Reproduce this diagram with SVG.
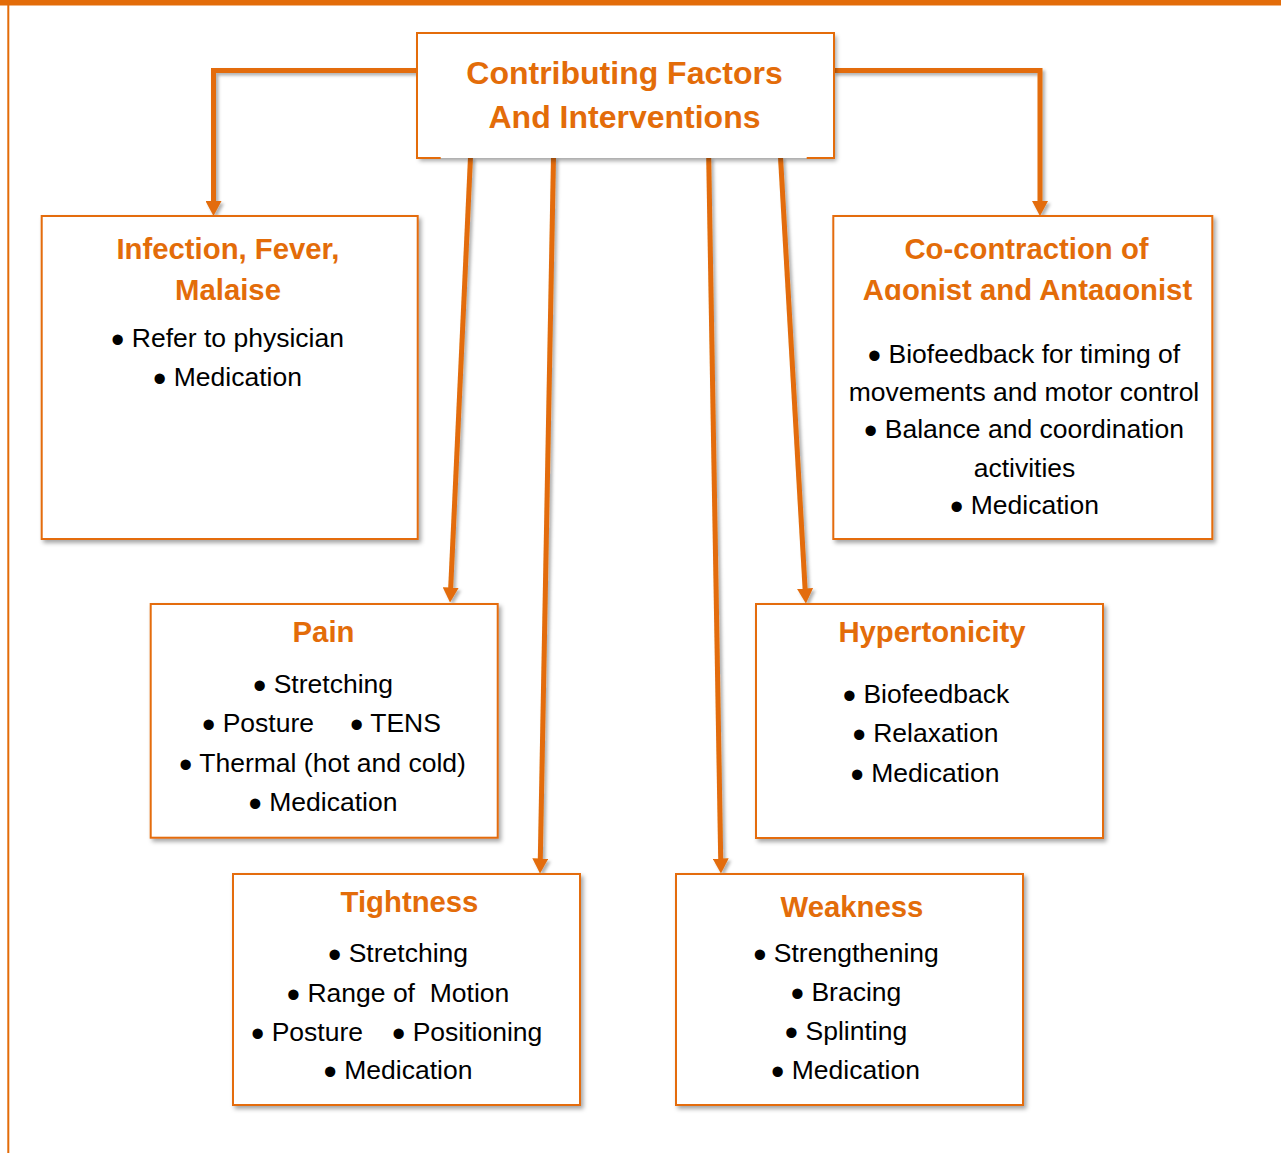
<svg xmlns="http://www.w3.org/2000/svg" width="1281" height="1153" viewBox="0 0 1281 1153">
<defs>
<filter id="sh" x="-10%" y="-10%" width="120%" height="120%">
<feDropShadow dx="2.5" dy="3" stdDeviation="2" flood-color="#000" flood-opacity="0.35"/>
</filter>
<filter id="shl" x="-50%" y="-5%" width="200%" height="110%" filterUnits="objectBoundingBox">
<feDropShadow dx="2.5" dy="2.5" stdDeviation="1.8" flood-color="#000" flood-opacity="0.3"/>
</filter>
<marker id="ah" viewBox="0 0 15 16" refX="0.5" refY="8" markerWidth="15" markerHeight="16" markerUnits="userSpaceOnUse" orient="auto">
<path d="M0,0 L15,8 L0,16 Z" fill="#E36C09"/>
</marker>
<clipPath id="clipCo"><rect x="833" y="216" width="380" height="84"/></clipPath>
</defs>
<style>
.box{fill:#fff;stroke:#E46C0A;stroke-width:2;}
.conn{fill:none;stroke:#E36C09;stroke-width:5;marker-end:url(#ah);}
.h{font-family:"Liberation Sans",Arial,sans-serif;font-weight:bold;font-size:29.3px;fill:#E36C09;text-anchor:middle;}
.t{font-family:"Liberation Sans",Arial,sans-serif;font-weight:bold;font-size:32px;fill:#E36C09;text-anchor:middle;}
.b{font-family:"Liberation Sans",Arial,sans-serif;font-size:26.5px;fill:#000;text-anchor:middle;}
.bs{font-family:"Liberation Sans",Arial,sans-serif;font-size:26.5px;fill:#000;}
.d{font-size:38px;}
</style>
<rect x="0" y="0" width="1281" height="5.5" fill="#E36C09"/>
<rect x="7.3" y="0" width="2" height="1153" fill="#E36C09"/>

<g id="connectors" filter="url(#shl)">
<path class="conn" d="M418,70.5 H213.5 V201.5"/>
<path class="conn" d="M833,70.5 H1040 V201.5"/>
<path class="conn" d="M470.5,157 L450.7,588"/>
<path class="conn" d="M553.5,157 L540.3,859"/>
<path class="conn" d="M708.7,157 L720.7,859"/>
<path class="conn" d="M780.5,157 L805.1,589"/>
</g>

<g id="root">
<rect x="417" y="33" width="417" height="125" fill="#fff" filter="url(#sh)"/>
<path d="M440.7,158 H417 V33 H834 V158 H806.7" fill="none" stroke="#E46C0A" stroke-width="2"/>
<text class="t" x="624.5" y="84">Contributing Factors</text>
<text class="t" x="624.5" y="128">And Interventions</text>
</g>

<g id="infection">
<rect class="box" x="41.7" y="216" width="376" height="323" filter="url(#sh)"/>
<text class="h" x="228" y="258.5">Infection, Fever,</text>
<text class="h" x="228" y="299.5">Malaise</text>
<text class="b" x="227.5" y="347"><tspan class="d" dy="6">•</tspan><tspan dy="-6"> Refer to physician</tspan></text>
<text class="b" x="227.5" y="385.5"><tspan class="d" dy="6">•</tspan><tspan dy="-6"> Medication</tspan></text>
</g>

<g id="cocontraction">
<rect class="box" x="833.3" y="216" width="379" height="323" filter="url(#sh)"/>
<text class="h" x="1026.5" y="258.5">Co-contraction of</text>
<text class="h" x="1027.5" y="299.5" clip-path="url(#clipCo)">Agonist and Antagonist</text>
<text class="b" x="1024" y="362.5"><tspan class="d" dy="6">•</tspan><tspan dy="-6"> Biofeedback for timing of</tspan></text>
<text class="b" x="1024" y="400.5">movements and motor control</text>
<text class="b" x="1024" y="437.5"><tspan class="d" dy="6">•</tspan><tspan dy="-6"> Balance and coordination</tspan></text>
<text class="b" x="1024.5" y="476.5">activities</text>
<text class="b" x="1024.5" y="513.5"><tspan class="d" dy="6">•</tspan><tspan dy="-6"> Medication</tspan></text>
</g>

<g id="pain">
<rect class="box" x="150.7" y="604" width="347" height="233.7" filter="url(#sh)"/>
<text class="h" x="323.5" y="642">Pain</text>
<text class="b" x="323" y="693"><tspan class="d" dy="6">•</tspan><tspan dy="-6"> Stretching</tspan></text>
<text class="bs" x="202" y="732.2"><tspan class="d" dy="6">•</tspan><tspan dy="-6"> Posture</tspan></text>
<text class="bs" x="350" y="732.2"><tspan class="d" dy="6">•</tspan><tspan dy="-6"> TENS</tspan></text>
<text class="b" x="322.5" y="771.5"><tspan class="d" dy="6">•</tspan><tspan dy="-6"> Thermal (hot and cold)</tspan></text>
<text class="b" x="323" y="810.5"><tspan class="d" dy="6">•</tspan><tspan dy="-6"> Medication</tspan></text>
</g>

<g id="hypertonicity">
<rect class="box" x="756" y="604" width="347" height="234" filter="url(#sh)"/>
<text class="h" x="932" y="642.3">Hypertonicity</text>
<text class="b" x="926" y="702.5"><tspan class="d" dy="6">•</tspan><tspan dy="-6"> Biofeedback</tspan></text>
<text class="b" x="925.5" y="742.2"><tspan class="d" dy="6">•</tspan><tspan dy="-6"> Relaxation</tspan></text>
<text class="b" x="925" y="781.5"><tspan class="d" dy="6">•</tspan><tspan dy="-6"> Medication</tspan></text>
</g>

<g id="tightness">
<rect class="box" x="233" y="874" width="347" height="231" filter="url(#sh)"/>
<text class="h" x="409.5" y="912">Tightness</text>
<text class="b" x="398" y="962.2"><tspan class="d" dy="6">•</tspan><tspan dy="-6"> Stretching</tspan></text>
<text class="b" x="398" y="1001.5" xml:space="preserve"><tspan class="d" dy="6">•</tspan><tspan dy="-6"> Range of  Motion</tspan></text>
<text class="bs" x="251" y="1040.5"><tspan class="d" dy="6">•</tspan><tspan dy="-6"> Posture</tspan></text>
<text class="bs" x="392" y="1040.5"><tspan class="d" dy="6">•</tspan><tspan dy="-6"> Positioning</tspan></text>
<text class="b" x="398" y="1079"><tspan class="d" dy="6">•</tspan><tspan dy="-6"> Medication</tspan></text>
</g>

<g id="weakness">
<rect class="box" x="676" y="874" width="347" height="231" filter="url(#sh)"/>
<text class="h" x="852" y="917">Weakness</text>
<text class="b" x="846" y="962.2"><tspan class="d" dy="6">•</tspan><tspan dy="-6"> Strengthening</tspan></text>
<text class="b" x="846" y="1000.5"><tspan class="d" dy="6">•</tspan><tspan dy="-6"> Bracing</tspan></text>
<text class="b" x="846" y="1039.5"><tspan class="d" dy="6">•</tspan><tspan dy="-6"> Splinting</tspan></text>
<text class="b" x="845.5" y="1078.5"><tspan class="d" dy="6">•</tspan><tspan dy="-6"> Medication</tspan></text>
</g>
</svg>
